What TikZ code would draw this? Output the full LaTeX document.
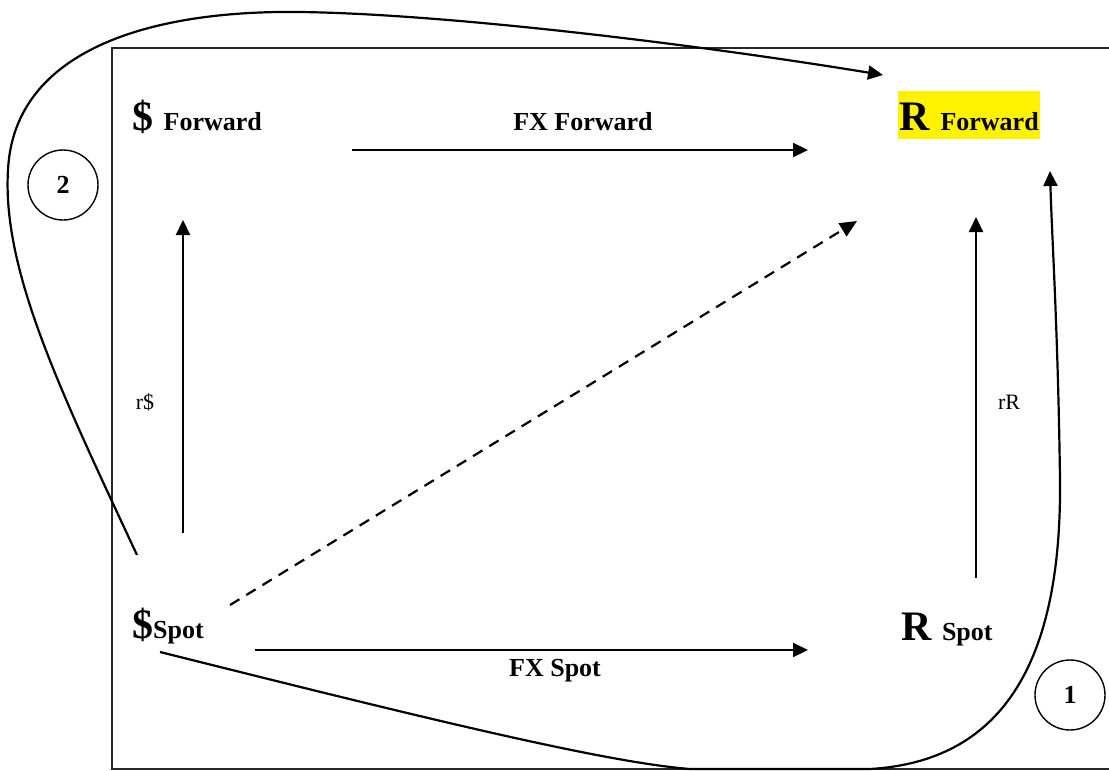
\documentclass[tikz,border=0pt]{standalone}
\usepackage{fontspec}
\setmainfont{Liberation Serif}
\usetikzlibrary{arrows.meta}
\newcommand\symbig{\fontsize{42}{42}\selectfont\bfseries}
\newcommand\wordbold{\fontsize{26}{26}\selectfont\bfseries}
\newcommand\rate{\fontsize{22}{22}\selectfont}
\tikzset{
  frameline/.style={line width=1.6pt, draw=black!85},
  flow/.style={line width=2.2pt, -{Triangle[length=15pt,width=14pt]}},
  loopline/.style={line width=2.2pt},
  parity/.style={line width=2.2pt, dash pattern=on 11pt off 8pt, -{Triangle[length=17pt,width=15pt]}},
  tag/.style={circle, draw, line width=1.4pt, minimum size=70pt, inner sep=0, font=\wordbold},
  lbl/.style={inner sep=0},
}
\begin{document}
\begin{tikzpicture}[x=1pt,y=-1pt]
\useasboundingbox (0,0) rectangle (1109,771);
% surrounding box, open at the right
\draw[frameline] (1112,48) -- (112,48) -- (112,769) -- (1112,769);

% the four positions
\node[lbl, anchor=base west] (dfwd) at (132,130) {\symbig\$ \wordbold Forward};
\node[anchor=base west, fill=yellow, inner xsep=1.5pt, inner ysep=0pt, text height=39pt, text depth=9pt] (rfwd) at (898,130) {\symbig R \wordbold Forward};
\node[lbl, anchor=base west] (dspot) at (132,638) {\symbig\$\wordbold Spot};
\node[lbl, anchor=base west] (rspot) at (901,640) {\symbig R \wordbold Spot};

% arrow labels
\node[lbl, anchor=base] (fxf) at (583,130) {\wordbold FX Forward};
\node[lbl, anchor=base] (fxs) at (555,676) {\wordbold FX Spot};
\node[lbl] (rd) at (145,402) {\rate r\$};
\node[lbl] (rr) at (1009,402) {\rate rR};

% route markers
\node[tag] (one) at (1070,695) {1};
\node[tag] (two) at (63,185) {2};

% connector ends
\coordinate (fxfA) at (352,150);
\coordinate (fxfB) at (808,150);
\coordinate (fxsA) at (255,650);
\coordinate (fxsB) at (808,650);
\coordinate (rdA) at (183,533);
\coordinate (rdB) at (183,220);
\coordinate (rrA) at (976,578);
\coordinate (rrB) at (976,217);
\coordinate (diagA) at (230,605);
\coordinate (diagB) at (857,221);
\coordinate (loopOneA) at (160,652);
\coordinate (loopOneB) at (1050,171);
\coordinate (loopTwoA) at (137,555);
\coordinate (loopTwoB) at (883,75);

\draw[flow] (fxfA) -- (fxfB);
\draw[flow] (fxsA) -- (fxsB);
\draw[flow] (rdA) -- (rdB);
\draw[flow] (rrA) -- (rrB);
\draw[parity] (diagA) -- (diagB);

% route 1: spot dollars round the bottom to forward rand
\draw[loopline, -{Triangle[length=15pt,width=14pt]}]
  (loopOneA) .. controls (400,712) and (600,762) .. (690,769)
  -- (870,769)
  .. controls (990,762) and (1062,680) .. (1060,480)
  .. controls (1058,330) and (1052,240) .. (loopOneB);

% route 2: spot dollars over the top to forward rand
\draw[loopline, -{Triangle[length=15pt,width=14pt]}]
  (loopTwoA) .. controls (60,390) and (2,270) .. (8,170)
  .. controls (14,50) and (150,10) .. (300,12)
  .. controls (450,14) and (700,45) .. (loopTwoB);
\end{tikzpicture}
\end{document}
